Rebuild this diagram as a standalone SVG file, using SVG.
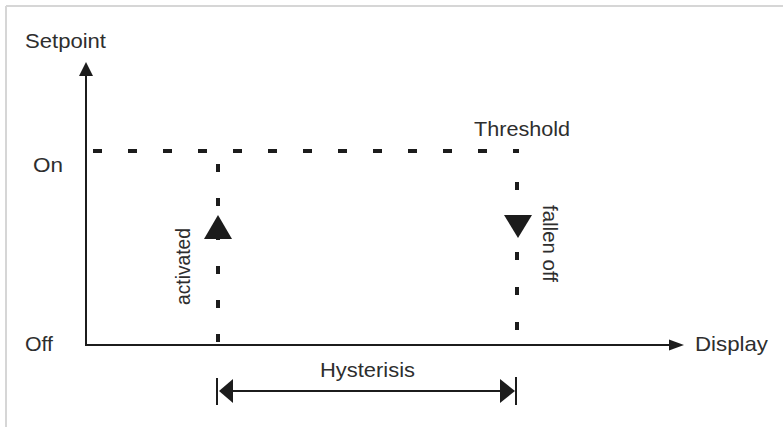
<svg xmlns="http://www.w3.org/2000/svg" width="783" height="427" viewBox="0 0 783 427">
  <style>
    .lbl { font-family: "Liberation Sans", Arial, sans-serif; font-size: 21px; fill: #2e2e2e; }
    .axis { stroke: #1c1c1c; stroke-width: 2; fill: none; }
    .dash { stroke: #1c1c1c; stroke-width: 4; fill: none; }
    .head { fill: #1c1c1c; stroke: none; }
  </style>
  <rect width="783" height="427" fill="#ffffff"/>
  <g id="frame" stroke="#d6d6d6" stroke-width="2" fill="none">
    <line x1="6" y1="6" x2="783" y2="6"/>
    <line x1="6" y1="6" x2="6" y2="427"/>
  </g>
  <g id="connectors">
    <g id="y-axis">
      <line class="axis" x1="86" y1="346" x2="86" y2="74"/>
      <polygon class="head" points="86,62 79,76 93,76"/>
    </g>
    <g id="x-axis">
      <line class="axis" x1="85" y1="345" x2="671" y2="345"/>
      <polygon class="head" points="684,345 669,339.5 669,350.5"/>
    </g>
    <g id="threshold-line">
      <line class="dash" x1="93" y1="151" x2="519" y2="151" stroke-dasharray="9 26"/>
    </g>
    <g id="activated-line">
      <line class="dash" x1="218" y1="164" x2="218" y2="345" stroke-dasharray="8 26"/>
      <polygon class="head" points="218,215 204,239 232,239"/>
    </g>
    <g id="fallen-off-line">
      <line class="dash" x1="517" y1="182" x2="517" y2="331" stroke-dasharray="8 27"/>
      <polygon class="head" points="504,215 532,215 518,238"/>
    </g>
    <g id="hysterisis-arrow">
      <line class="axis" x1="217" y1="378" x2="217" y2="405"/>
      <line class="axis" x1="516" y1="377" x2="516" y2="405"/>
      <line class="axis" x1="225" y1="391" x2="508" y2="391"/>
      <polygon class="head" points="219,391 233,379 233,403"/>
      <polygon class="head" points="515,391 500,379 500,403"/>
    </g>
  </g>
  <g id="label-setpoint"><text class="lbl" x="25" y="48" textLength="81" lengthAdjust="spacingAndGlyphs">Setpoint</text></g>
  <g id="label-on"><text class="lbl" x="33" y="172" textLength="30" lengthAdjust="spacingAndGlyphs">On</text></g>
  <g id="label-off"><text class="lbl" x="25" y="351" textLength="28" lengthAdjust="spacingAndGlyphs">Off</text></g>
  <g id="label-threshold"><text class="lbl" x="474" y="136" textLength="96" lengthAdjust="spacingAndGlyphs">Threshold</text></g>
  <g id="label-display"><text class="lbl" x="695" y="351" textLength="73" lengthAdjust="spacingAndGlyphs">Display</text></g>
  <g id="label-hysterisis"><text class="lbl" x="320" y="377" textLength="95" lengthAdjust="spacingAndGlyphs">Hysterisis</text></g>
  <g id="label-activated"><text class="lbl" transform="translate(190,305) rotate(-90)" x="0" y="0" font-size="20" textLength="77" lengthAdjust="spacingAndGlyphs">activated</text></g>
  <g id="label-fallen-off"><text class="lbl" transform="translate(543,205) rotate(90)" x="0" y="0" font-size="20" textLength="77" lengthAdjust="spacingAndGlyphs">fallen off</text></g>
</svg>
